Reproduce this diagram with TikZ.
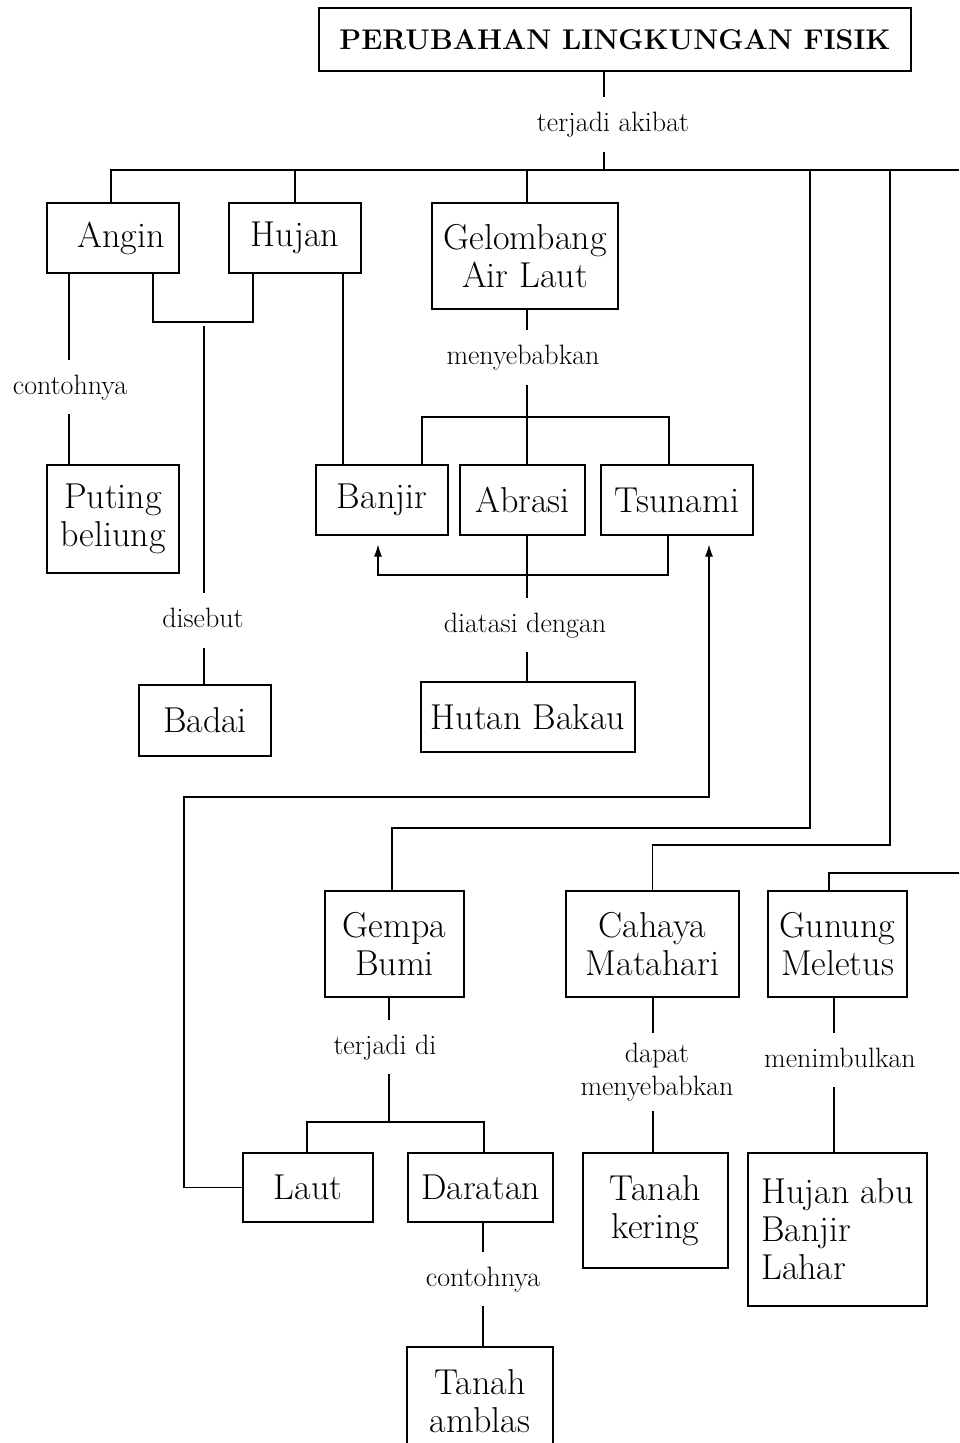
\documentclass[tikz,border=0pt]{standalone}
\usetikzlibrary{arrows.meta}
\begin{document}
\begin{tikzpicture}[x=1pt,y=-1pt,
  box/.style={draw, line width=1.1pt, inner sep=0pt, align=center, font=\fontsize{36}{38}\selectfont},
  lbl/.style={inner xsep=2pt, inner ysep=14pt, text height=20pt, text depth=6pt, font=\fontsize{28}{33}\selectfont},
  lbltwo/.style={inner xsep=2pt, inner ysep=10pt, align=center, font=\fontsize{28}{33}\selectfont},
  conn/.style={line width=1.1pt},
  arr/.style={conn, -{Latex[length=12pt,width=8pt]}, shorten >=9pt}]
\useasboundingbox (0,0) rectangle (959,1443);

% nodes
\node[box, minimum width=592pt, minimum height=63pt, font=\fontsize{28.5}{34}\selectfont\bfseries] (title) at (615,39.5) {PERUBAHAN LINGKUNGAN FISIK};
\node[lbl] (l1) at (613,124.5) {terjadi akibat};
\node[box, minimum width=132pt, minimum height=70pt] (angin) at (113,238) {\hspace*{16pt}Angin};
\node[box, minimum width=132pt, minimum height=70pt] (hujan) at (295,238) {Hujan};
\node[box, minimum width=186pt, minimum height=106pt] (gel) at (525,256) {Gelombang\\Air Laut};
\node[lbl] (lc1) at (70,387) {contohnya};
\node[box, minimum width=132pt, minimum height=108pt] (puting) at (113,519) {Puting\\beliung};
\node[lbl] (ldis) at (203,620.5) {disebut};
\node[box, minimum width=132pt, minimum height=71pt] (badai) at (205,720.5) {Badai};
\node[box, minimum width=132pt, minimum height=70pt] (banjir) at (382,500) {Banjir};
\node[box, minimum width=125pt, minimum height=70pt] (abrasi) at (522.5,500) {Abrasi};
\node[box, minimum width=152pt, minimum height=70pt] (tsunami) at (677,500) {Tsunami};
\node[lbl] (lmen) at (523,357.5) {menyebabkan};
\node[lbl] (ldia) at (525,625) {diatasi dengan};
\node[box, minimum width=214pt, minimum height=70pt] (hutan) at (528,717) {Hutan Bakau};
\node[box, minimum width=139pt, minimum height=106pt] (gempa) at (394.5,944) {Gempa\\Bumi};
\node[box, minimum width=173pt, minimum height=106pt] (cahaya) at (652.5,944) {Cahaya\\Matahari};
\node[box, minimum width=139pt, minimum height=106pt] (gunung) at (837.5,944) {Gunung\\Meletus};
\node[lbl] (lter) at (385,1047) {terjadi di};
\node[box, minimum width=130pt, minimum height=69pt] (laut) at (308,1187.5) {Laut};
\node[box, minimum width=145pt, minimum height=69pt] (daratan) at (480.5,1187.5) {Daratan};
\node[lbl] (lc2) at (483,1279) {contohnya};
\node[box, minimum width=146pt, minimum height=108pt] (amblas) at (480,1401) {Tanah\\amblas};
\node[lbltwo] (ldap) at (657,1072) {dapat\\menyebabkan};
\node[box, minimum width=145pt, minimum height=115pt] (tanahk) at (655.5,1210.5) {Tanah\\kering};
\node[lbl] (lmeni) at (840,1060) {menimbulkan};
\node[box, minimum width=179pt, minimum height=153pt, align=left] (hujanabu) at (837.5,1229.5) {Hujan abu\\Banjir\\Lahar};

% coordinates
\coordinate (j1) at (604,170);
\coordinate (busR) at (959,170);
\coordinate (c1) at (810,828);
\coordinate (c2) at (890,845);
\coordinate (c3) at (959,873);
\coordinate (ax) at (69,0);
\coordinate (m1) at (153,322);
\coordinate (m2) at (253,322);
\coordinate (m3) at (204,326);
\coordinate (hx) at (343,0);
\coordinate (gx) at (527,0);
\coordinate (b1) at (422,417);
\coordinate (b2) at (669,417);
\coordinate (a1) at (668,575);
\coordinate (a2) at (378,575);
\coordinate (lc) at (184,797);
\coordinate (lt) at (709,797);
\coordinate (gx2) at (389,1122);
\coordinate (d1) at (307,1122);
\coordinate (d2) at (484,1122);
\coordinate (dx) at (483,0);
\coordinate (cx) at (653,0);
\coordinate (gnx) at (834,0);

% connectors
\draw[conn] (title.south -| j1) -- (l1.north -| j1);
\draw[conn] (l1.south -| j1) -- (j1);
\draw[conn] ([xshift=-2pt]angin.north) |- (busR);
\draw[conn] (hujan.north) -- (hujan.north |- busR);
\draw[conn] ([xshift=2pt]gel.north) -- ([xshift=2pt]gel.north |- busR);
\draw[conn] ([xshift=-2.5pt]gempa.north) |- (c1) -- (c1 |- busR);
\draw[conn] (cahaya.north) |- (c2) -- (c2 |- busR);
\draw[conn] ([xshift=-8.5pt]gunung.north) |- (c3);

\draw[conn] (angin.south -| ax) -- (lc1.north -| ax);
\draw[conn] (lc1.south -| ax) -- (puting.north -| ax);
\draw[conn] (angin.south -| m1) -- (m1) -- (m2) -- (hujan.south -| m2);
\draw[conn] (m3) -- (ldis.north -| m3);
\draw[conn] (ldis.south -| m3) -- (badai.north -| m3);
\draw[conn] (hujan.south -| hx) -- (banjir.north -| hx);
\draw[conn] (gel.south -| gx) -- (lmen.north -| gx);
\draw[conn] (lmen.south -| gx) -- (abrasi.north -| gx);
\draw[conn] (banjir.north -| b1) -- (b1) -- (b2) -- (tsunami.north -| b2);
\draw[conn] (abrasi.south -| gx) -- (ldia.north -| gx);
\draw[conn] (ldia.south -| gx) -- (hutan.north -| gx);
\draw[arr] (tsunami.south -| a1) -- (a1) -- (a2) -- (banjir.south -| a2);
\draw[arr] (laut.west) -- (laut.west -| lc) -- (lc) -- (lt) -- (tsunami.south -| lt);

\draw[conn] (gempa.south -| gx2) -- (lter.north -| gx2);
\draw[conn] (lter.south -| gx2) -- (gx2);
\draw[conn] (laut.north -| d1) -- (d1) -- (d2) -- (daratan.north -| d2);
\draw[conn] (daratan.south -| dx) -- (lc2.north -| dx);
\draw[conn] (lc2.south -| dx) -- (amblas.north -| dx);
\draw[conn] (cahaya.south -| cx) -- (ldap.north -| cx);
\draw[conn] (ldap.south -| cx) -- (tanahk.north -| cx);
\draw[conn] (gunung.south -| gnx) -- (lmeni.north -| gnx);
\draw[conn] (lmeni.south -| gnx) -- (hujanabu.north -| gnx);
\end{tikzpicture}
\end{document}
